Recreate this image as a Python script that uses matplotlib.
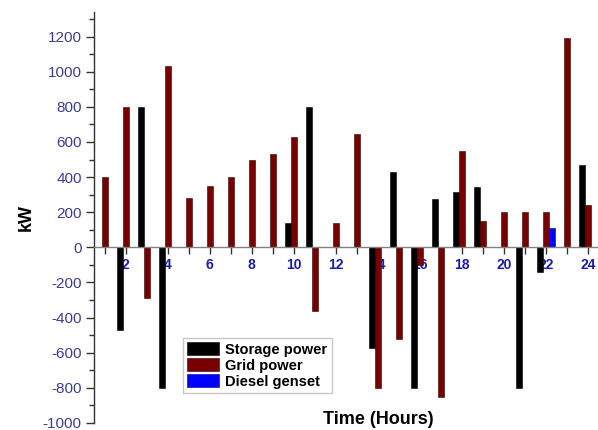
import matplotlib
matplotlib.use("Agg")
import matplotlib.pyplot as plt
import numpy as np
from matplotlib.ticker import MultipleLocator, FixedLocator

plt.rcParams['font.family'] = ['Liberation Sans', 'DejaVu Sans']
plt.rcParams['axes.unicode_minus'] = False

hours = list(range(1, 25))
storage = [0, -470, 800, -800, 0, 0, 0, 0, 0, 140, 800, 0,
           0, -575, 430, -800, 275, 315, 345, 0, -800, -140, 0, 470]
grid = [400, 800, -290, 1030, 280, 350, 400, 500, 530, 630, -360, 140,
        645, -800, -520, -100, -850, 550, 150, 200, 200, 200, 1190, 240]
diesel = [0, 0, 0, 0, 0, 0, 0, 0, 0, 0, 0, 0,
          0, 0, 0, 0, 0, 0, 0, 0, 0, 110, 0, 0]

fig = plt.figure(figsize=(5.98, 4.30), dpi=100)
ax = fig.add_axes([0.1575, 0.0163, 0.850, 0.9558])
ax.set_axisbelow(True)

x = np.array(hours, dtype=float)
w = 0.28
ax.bar(x - w, storage, width=w, color='black', edgecolor='black', linewidth=0.4, label='Storage power')
ax.bar(x, grid, width=w, color='#780000', edgecolor='#300000', linewidth=0.4, label='Grid power')
ax.bar(x + w, diesel, width=w, color='#0000ff', edgecolor='#000080', linewidth=0.4, label='Diesel genset')

ax.set_xlim(0.5, 24.7)
ax.set_ylim(-1000, 1340)

for s in ['top', 'right']:
    ax.spines[s].set_visible(False)
ax.spines['bottom'].set_position(('data', 0))
ax.spines['bottom'].set_color('#808080')
ax.spines['bottom'].set_linewidth(1.0)
ax.spines['left'].set_color('#333333')
ax.spines['left'].set_linewidth(1.0)

ax.xaxis.set_major_locator(FixedLocator(list(range(2, 25, 2))))
ax.xaxis.set_minor_locator(FixedLocator(list(range(1, 25, 2))))
ax.tick_params(axis='x', which='both', direction='out', length=5, width=1, color='#333333', pad=3)
for lab in ax.get_xticklabels():
    lab.set_fontweight('bold')
    lab.set_color('#1c1cb0')
    lab.set_fontsize(10)

ax.yaxis.set_major_locator(MultipleLocator(200))
ax.yaxis.set_minor_locator(MultipleLocator(100))
ax.tick_params(axis='y', which='major', direction='out', length=6, width=1, color='#333333',
               labelsize=11, labelcolor='#3c3c9c', pad=3)
ax.tick_params(axis='y', which='minor', direction='out', length=3.5, width=1, color='#333333')

ax.set_ylabel('kW', fontsize=13, fontweight='bold', labelpad=6)
fig.text(0.632, 0.024, 'Time (Hours)', fontsize=13, fontweight='bold', ha='center', va='center')

leg = ax.legend(loc='upper left', bbox_to_anchor=(183/598, 1 - 338/430), bbox_transform=fig.transFigure,
                borderaxespad=0, frameon=True, fancybox=False, edgecolor='#bbbbbb',
                prop={'weight': 'bold', 'size': 10.5}, handlelength=2.2, handleheight=1.0,
                handletextpad=0.4, labelspacing=0.1, borderpad=0.3)
leg.get_frame().set_linewidth(1.0)

fig.savefig('out.png', dpi=100)
